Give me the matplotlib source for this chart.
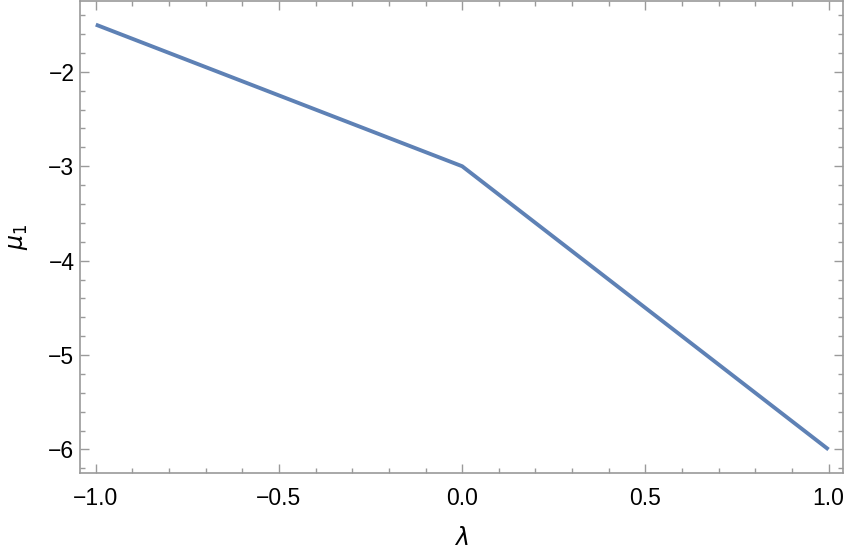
import matplotlib
matplotlib.use("Agg")
import matplotlib.pyplot as plt
from matplotlib.ticker import MultipleLocator

# piecewise linear curve mu_1(lambda)
lam = [-1.0, 0.0, 1.0]
mu1 = [-1.5, -3.0, -6.0]

x_ticks = [-1.0, -0.5, 0.0, 0.5, 1.0]
y_ticks = [-2, -3, -4, -5, -6]

plt.rcParams["font.family"] = ["Liberation Sans", "DejaVu Sans"]
plt.rcParams["mathtext.fontset"] = "dejavusans"

fig = plt.figure(figsize=(8.47, 5.58), dpi=100)
ax = fig.add_axes([0.0945, 0.152, 0.901, 0.846])

ax.plot(lam, mu1, color="#5E81B5", linewidth=2.8, solid_capstyle="butt")

ax.set_xlim(-1.043, 1.040)
ax.set_ylim(-6.251, -1.251)
ax.set_xticks(x_ticks)
ax.set_yticks(y_ticks)
ax.set_xticklabels(["\u22121.0", "\u22120.5", "0.0", "0.5", "1.0"])
ax.set_yticklabels(["\u2212%d" % abs(v) for v in y_ticks])
ax.xaxis.set_minor_locator(MultipleLocator(0.1))
ax.yaxis.set_minor_locator(MultipleLocator(0.2))

frame_col = "#9a9a9a"
for s in ax.spines.values():
    s.set_color(frame_col)
    s.set_linewidth(1.2)
ax.tick_params(which="both", direction="in", top=True, right=True,
               color=frame_col, width=1.0, labelsize=16.5)
ax.tick_params(axis="x", pad=10)
ax.tick_params(axis="y", pad=4)
ax.tick_params(which="major", length=6.5)
ax.tick_params(which="minor", length=3.3)

ax.set_xlabel(r"$\lambda$", fontsize=17, labelpad=12)
ax.set_ylabel(r"$\mu_1$", fontsize=17, labelpad=13)

fig.savefig("out.png", dpi=100)
